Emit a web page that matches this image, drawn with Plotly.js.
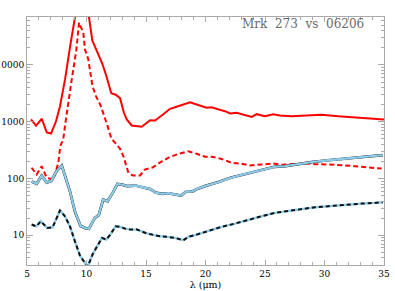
<!DOCTYPE html>
<html>
<head>
<meta charset="utf-8">
<script src="https://cdn.plot.ly/plotly-3.0.1.min.js"></script>
<style>html,body{margin:0;padding:0;background:#fff;}#chart{width:395px;height:291px;}</style>
</head>
<body>
<div id="chart"></div>
<script>
// Red solid
var redSolidX = [5.34, 5.76, 6.24, 6.66, 7.02, 7.43, 7.77, 8.19, 8.61, 8.97, 9.4, 9.7, 10.0, 10.21, 10.49, 10.91, 11.33, 11.7, 12.08, 12.45, 12.82, 13.13, 13.38, 13.8, 14.64, 15.34, 15.76, 16.32, 17.02, 17.44, 17.86, 18.7, 19.26, 20.1, 20.52, 20.8, 21.13, 21.64, 22.06, 22.62, 23.18, 23.88, 24.3, 25.0, 25.7, 26.26, 27.24, 28.36, 29.76, 31.16, 33.13, 34.24, 35.0];
var redSolidY = [1100, 850, 1130, 650, 620, 1010, 1855, 5450, 20500, 60300, 200000, 250000, 150000, 68900, 26900, 16800, 10500, 6100, 3190, 2990, 2600, 1470, 1097, 861, 817, 1067, 1054, 1290, 1690, 1800, 1930, 2210, 2010, 1760, 1800, 1700, 1640, 1535, 1400, 1440, 1330, 1220, 1360, 1250, 1360, 1290, 1250, 1270, 1330, 1250, 1175, 1130, 1100];
// Red dashed
var redDashX = [5.39, 5.81, 6.23, 6.66, 7.21, 7.63, 7.8, 8.05, 8.19, 8.34, 8.76, 9.15, 9.37, 9.73, 9.87, 10.15, 10.5, 10.8, 11.2, 11.68, 12.1, 12.43, 12.82, 13.1, 13.24, 13.52, 13.9, 14.5, 14.9, 15.55, 16.3, 17.0, 17.7, 18.55, 19.26, 19.96, 20.52, 21.14, 21.64, 22.2, 22.9, 23.74, 24.7, 25.7, 26.4, 27.52, 28.36, 29.2, 30.88, 32.56, 33.68, 34.5, 34.8];
var redDashY = [155, 118, 165, 103, 96, 189, 372, 500, 835, 1440, 5570, 18800, 55700, 37200, 18800, 12600, 4250, 2830, 1900, 960, 500, 420, 335, 247, 200, 126, 113, 113, 144, 156, 199, 240, 270, 303, 273, 242, 242, 228, 210, 189, 184, 170, 177, 184, 175, 180, 184, 179, 175, 165, 158, 152, 150];
// Upper black / blue solid
var upperX = [5.39, 5.81, 6.23, 6.66, 7.05, 7.47, 7.92, 8.61, 9.03, 9.5, 9.9, 10.2, 10.7, 11.03, 11.4, 11.77, 12.2, 12.6, 13.0, 13.4, 14.1, 14.5, 14.95, 15.4, 15.8, 16.35, 16.9, 17.4, 17.95, 18.4, 18.9, 19.3, 20.0, 21.1, 22.1, 23.2, 24.3, 25.1, 25.8, 26.7, 27.8, 28.9, 30.3, 31.7, 33.1, 34.2, 34.9];
var upperY = [88.5, 80.7, 112, 85, 91, 134, 169, 59.6, 26, 14.6, 13.4, 13.1, 20.3, 22.7, 42.7, 39.8, 56, 80, 78, 73.7, 75.3, 71.5, 68.6, 65, 56.6, 53.7, 55, 52.3, 50.2, 59.7, 59, 65.8, 74.3, 86.7, 103, 118, 133, 145, 161, 165, 180, 194, 210, 225, 241, 247, 258];
// Lower black dashed / blue
var lowerX = [5.39, 5.78, 6.16, 6.7, 7.15, 7.77, 8.19, 8.61, 9.03, 9.45, 9.87, 10.1, 10.5, 10.9, 11.3, 11.67, 12.0, 12.45, 12.87, 13.3, 13.7, 14.26, 14.96, 15.5, 16.2, 16.75, 17.44, 18.14, 18.56, 19.26, 20.1, 21.2, 22.48, 23.6, 24.7, 25.8, 26.9, 28.0, 29.2, 30.3, 31.7, 33.1, 34.2, 34.9];
var lowerY = [15.5, 14.4, 17.7, 13.5, 13.8, 27.3, 21.6, 14.4, 7.8, 4.4, 3.26, 2.8, 4.57, 6.4, 9.0, 8.4, 10.3, 14.4, 14.0, 13.0, 12.6, 12.6, 11.0, 10.3, 9.6, 9.4, 9.0, 8.2, 9.4, 10.3, 11.8, 13.8, 16.1, 18.4, 21.6, 24.8, 26.5, 29.2, 31.2, 32.5, 34.8, 36.2, 37.2, 38.2];

var xTickVals = [5, 10, 15, 20, 25, 30, 35];
var yTickVals = [10, 100, 1000, 10000];
var yTickText = ['10', '100', '1000', '10000'];
var titleText = 'Mrk\u00a0 273\u00a0 vs\u00a0 06206';

var RED = '#ff0000', BLUE = '#8ccbe8', BLACK = '#111111';

var traces = [
  {x: redSolidX, y: redSolidY, mode: 'lines', line: {color: RED, width: 2}},
  {x: redDashX, y: redDashY, mode: 'lines', line: {color: RED, width: 2, dash: '5px,3px'}},
  {x: upperX, y: upperY, mode: 'lines', line: {color: BLACK, width: 2.7}},
  {x: upperX, y: upperY, mode: 'lines', line: {color: BLUE, width: 2.3}},
  {x: lowerX, y: lowerY, mode: 'lines', line: {color: BLUE, width: 2.4}},
  {x: lowerX, y: lowerY, mode: 'lines', line: {color: BLACK, width: 2, dash: '4px,3px'}}
];

var axisCommon = {
  showgrid: false, zeroline: false, showline: true, linecolor: '#aaaaaa', linewidth: 1,
  mirror: 'ticks', ticks: 'inside', tickcolor: '#aaaaaa',
  tickfont: {family: 'DejaVu Serif', size: 9, color: '#000'}
};

var layout = {
  width: 395, height: 291,
  margin: {l: 27, r: 11, t: 17, b: 26, pad: 0},
  paper_bgcolor: '#fff', plot_bgcolor: '#fff',
  showlegend: false,
  xaxis: Object.assign({}, axisCommon, {
    range: [5, 35], tickvals: xTickVals, ticklen: 5,
    minor: {dtick: 1, ticks: 'inside', ticklen: 3, tickcolor: '#aaaaaa'},
    title: {text: 'λ (μm)', font: {family: 'DejaVu Serif', size: 9.5, color: '#000'}, standoff: 2}
  }),
  yaxis: Object.assign({}, axisCommon, {
    type: 'log', range: [Math.log10(3), Math.log10(70000)],
    tickvals: yTickVals, ticktext: yTickText, ticklen: 6,
    minor: {tickvals: [2,3,4,5,6,7,8,9,20,30,40,50,60,70,80,90,200,300,400,500,600,700,800,900,2000,3000,4000,5000,6000,7000,8000,9000,20000,30000,40000,50000,60000], ticks: 'inside', ticklen: 3, tickcolor: '#aaaaaa'}
  }),
  annotations: [{
    xref: 'paper', yref: 'paper', x: 0.949, y: 0.97, xanchor: 'right', yanchor: 'middle',
    text: titleText, showarrow: false,
    font: {family: 'DejaVu Serif', size: 12, color: '#6a6a6a'}
  }]
};

Plotly.newPlot('chart', traces, layout, {staticPlot: true, displayModeBar: false});
</script>
</body>
</html>
